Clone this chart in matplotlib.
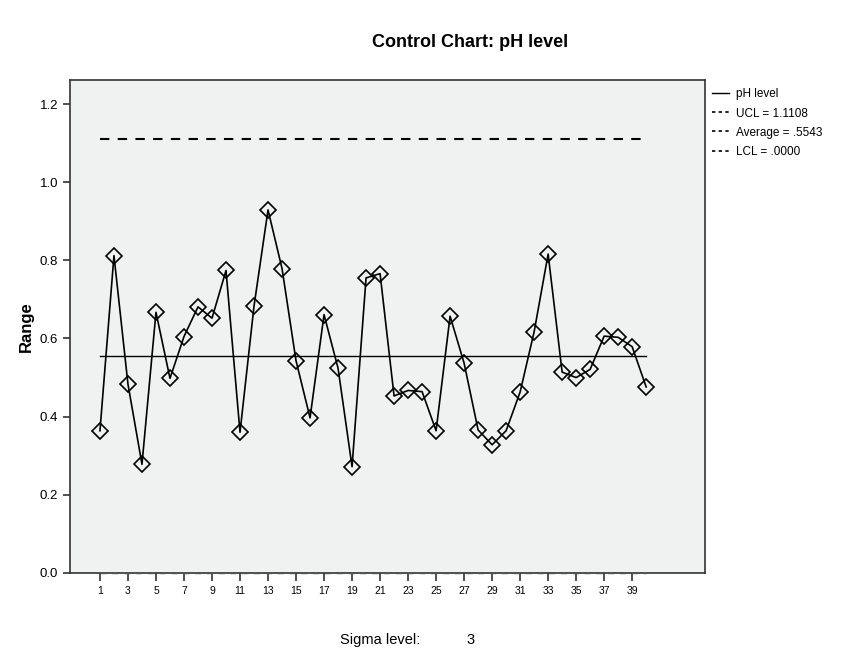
import matplotlib
matplotlib.use("Agg")
import matplotlib.pyplot as plt
from matplotlib.lines import Line2D

plt.rcParams["font.family"] = ["Liberation Sans", "DejaVu Sans"]

samples = list(range(1, 41))
ranges = [0.364, 0.812, 0.483, 0.278, 0.667, 0.498, 0.605, 0.681, 0.652, 0.774,
          0.360, 0.683, 0.929, 0.779, 0.543, 0.397, 0.661, 0.524, 0.272, 0.755,
          0.766, 0.453, 0.467, 0.464, 0.364, 0.657, 0.537, 0.366, 0.328, 0.364,
          0.463, 0.617, 0.816, 0.514, 0.500, 0.521, 0.606, 0.603, 0.579, 0.476]
ucl = 1.1108
average = 0.5543
lcl = 0.0
yticks = [0.0, 0.2, 0.4, 0.6, 0.8, 1.0, 1.2]
xticks = list(range(1, 40, 2))
legend_labels = ["pH level", "UCL = 1.1108", "Average = .5543", "LCL = .0000"]

fig = plt.figure(figsize=(8.63, 6.54), dpi=100)
ax = fig.add_axes([0.0811, 0.1239, 0.8169 - 0.0811, 0.8777 - 0.1239])
ax.set_facecolor("#F0F1F1")

ax.plot(samples, ranges, color="black", lw=1.2, marker="D", markersize=8,
        markerfacecolor="none", markeredgecolor="black", markeredgewidth=1.2, zorder=4)
ax.plot([samples[0], samples[-1]], [ucl, ucl], color="black", lw=1.5,
        linestyle=(0, (4.5, 4)), zorder=3)
ax.plot([samples[0], samples[-1]], [average, average], color="black", lw=1.0, zorder=3)
ax.plot([samples[0], samples[-1]], [lcl, lcl], color="#555555", lw=1.0,
        linestyle=(0, (4.5, 4)), zorder=3, clip_on=False)

ax.set_xlim(-1.14, 44.2)
ax.set_ylim(0, 1.2615)
ax.set_yticks(yticks)
ax.set_yticklabels(["%.1f" % v for v in yticks], fontsize=9.5)
ax.set_xticks(xticks)
ax.set_xticklabels([str(v) for v in xticks], fontsize=7.5)
ax.tick_params(axis="y", length=5, width=1.2, color="#333333")
ax.tick_params(axis="x", length=6, width=1.2, color="#333333")
for s in ax.spines.values():
    s.set_color("#333333")
    s.set_linewidth(1.2)

ax.set_ylabel("Range", fontsize=12, fontweight="bold", labelpad=4)
fig.text(0.545, 0.935, "Control Chart: pH level", ha="center", va="center",
         fontsize=13, fontweight="bold")
fig.text(0.394, 0.022, "Sigma level:", ha="left", va="center", fontsize=10.5)
fig.text(0.541, 0.022, "3", ha="left", va="center", fontsize=10.5)

handles = [Line2D([], [], color="black", lw=1.0),
           Line2D([], [], color="black", lw=1.2, linestyle=(0, (2, 2))),
           Line2D([], [], color="black", lw=1.2, linestyle=(0, (2, 2))),
           Line2D([], [], color="black", lw=1.2, linestyle=(0, (2, 2)))]
fig.legend(handles, legend_labels, loc="upper left", bbox_to_anchor=(0.820, 0.872),
           frameon=False, fontsize=8.5, handlelength=1.4, handletextpad=0.6,
           labelspacing=0.6, borderaxespad=0)

fig.savefig("out.png", dpi=100)
